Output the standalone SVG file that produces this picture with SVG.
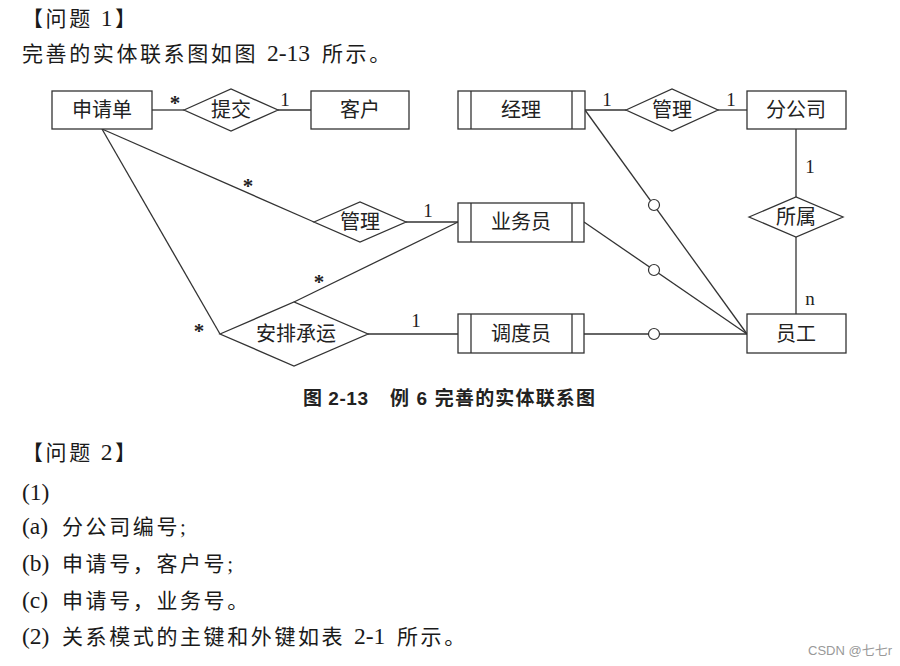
<svg xmlns="http://www.w3.org/2000/svg" width="900" height="666" viewBox="0 0 900 666">
<style>
.bg{fill:#fff}
.box{fill:#fff;stroke:#333;stroke-width:1.3}
.ln{fill:none;stroke:#333;stroke-width:1.3}
.dot{fill:#fff;stroke:#333;stroke-width:1.2}
.lbl{font-family:"Liberation Serif","Noto Sans CJK SC",serif;font-size:20px;fill:#222;text-anchor:middle}
.card{font-family:"Liberation Serif","Noto Sans CJK SC",serif;font-size:19px;fill:#222;text-anchor:middle}
.star{font-family:"Liberation Serif","Noto Sans CJK SC",serif;font-size:21px;font-weight:bold;fill:#222;text-anchor:middle}
.body{font-family:"Liberation Serif","Noto Sans CJK SC",serif;font-size:21px;fill:#1a1a1a}
.cj{letter-spacing:2.6px}
.la{font-size:23.5px}
.cap{font-family:"Liberation Sans","Noto Sans CJK SC",sans-serif;font-size:19px;font-weight:bold;fill:#222}
.wm{font-family:"Liberation Sans","Noto Sans CJK SC",sans-serif;font-size:13px;fill:#999}
</style>
<rect class="bg" x="0" y="0" width="900" height="666"/>

<g id="text-top">
<text class="body cj" x="22" y="26">【问题 <tspan class="la">1</tspan>】</text>
<text class="body" y="61"><tspan class="cj" x="22">完善的实体联系图如图</tspan><tspan class="la" x="267">2-13</tspan><tspan class="cj" x="322">所示。</tspan></text>
</g>

<g id="connectors">
<line class="ln" x1="152" y1="110" x2="184" y2="110"/>
<line class="ln" x1="278" y1="110" x2="311" y2="110"/>
<line class="ln" x1="585" y1="110" x2="626" y2="110"/>
<line class="ln" x1="718" y1="110" x2="747" y2="110"/>
<line class="ln" x1="796" y1="129" x2="796" y2="197"/>
<line class="ln" x1="796" y1="237" x2="796" y2="314"/>
<line class="ln" x1="102" y1="129" x2="314" y2="222"/>
<line class="ln" x1="102" y1="129" x2="220" y2="334"/>
<line class="ln" x1="406" y1="222" x2="458" y2="222"/>
<line class="ln" x1="294" y1="302" x2="458" y2="222"/>
<line class="ln" x1="368" y1="334" x2="458" y2="334"/>
<line class="ln" x1="585" y1="110" x2="747" y2="334"/>
<line class="ln" x1="584" y1="222" x2="747" y2="334"/>
<line class="ln" x1="584" y1="334" x2="747" y2="334"/>
<circle class="dot" cx="654" cy="205" r="5.5"/>
<circle class="dot" cx="654" cy="270" r="5.5"/>
<circle class="dot" cx="654" cy="334" r="5.5"/>
<text class="star" x="175" y="110">*</text>
<text class="card" x="285" y="106">1</text>
<text class="card" x="607" y="106">1</text>
<text class="card" x="731" y="106">1</text>
<text class="card" x="810" y="173">1</text>
<text class="card" x="810" y="305">n</text>
<text class="star" x="248" y="193">*</text>
<text class="card" x="428" y="217">1</text>
<text class="star" x="319" y="289">*</text>
<text class="star" x="199" y="338">*</text>
<text class="card" x="416" y="327">1</text>
</g>

<g id="n-shenqingdan">
<rect class="box" x="52" y="91" width="100" height="38"/>
<text class="lbl" x="102" y="117">申请单</text>
</g>
<g id="r-tijiao">
<polygon class="box" points="184,110 231,89 278,110 231,131"/>
<text class="lbl" x="231" y="117">提交</text>
</g>
<g id="n-kehu">
<rect class="box" x="311" y="91" width="98" height="38"/>
<text class="lbl" x="360" y="117">客户</text>
</g>
<g id="n-jingli">
<rect class="box" x="458" y="91" width="127" height="38"/>
<line class="ln" x1="471" y1="91" x2="471" y2="129"/>
<line class="ln" x1="572" y1="91" x2="572" y2="129"/>
<text class="lbl" x="521" y="117">经理</text>
</g>
<g id="r-guanli-top">
<polygon class="box" points="626,110 672,89 718,110 672,131"/>
<text class="lbl" x="672" y="117">管理</text>
</g>
<g id="n-fengongsi">
<rect class="box" x="747" y="91" width="99" height="38"/>
<text class="lbl" x="796" y="117">分公司</text>
</g>
<g id="r-suoshu">
<polygon class="box" points="749,217 796,197 843,217 796,237"/>
<text class="lbl" x="796" y="224">所属</text>
</g>
<g id="r-guanli-mid">
<polygon class="box" points="314,222 360,202 406,222 360,242"/>
<text class="lbl" x="360" y="229">管理</text>
</g>
<g id="n-yewuyuan">
<rect class="box" x="458" y="203" width="126" height="39"/>
<line class="ln" x1="471" y1="203" x2="471" y2="242"/>
<line class="ln" x1="572" y1="203" x2="572" y2="242"/>
<text class="lbl" x="521" y="229">业务员</text>
</g>
<g id="r-anpai">
<polygon class="box" points="220,334 294,302 368,334 294,366"/>
<text class="lbl" x="296" y="341">安排承运</text>
</g>
<g id="n-diaoduyuan">
<rect class="box" x="458" y="314" width="126" height="39"/>
<line class="ln" x1="471" y1="314" x2="471" y2="353"/>
<line class="ln" x1="572" y1="314" x2="572" y2="353"/>
<text class="lbl" x="521" y="341">调度员</text>
</g>
<g id="n-yuangong">
<rect class="box" x="747" y="314" width="99" height="39"/>
<text class="lbl" x="796" y="341">员工</text>
</g>

<g id="caption">
<text class="cap" x="303" y="405" textLength="65" lengthAdjust="spacing">图 2-13</text>
<text class="cap" x="390" y="405" textLength="205" lengthAdjust="spacing">例 6 完善的实体联系图</text>
</g>

<g id="text-bottom">
<text class="body cj" x="22" y="460">【问题 <tspan class="la">2</tspan>】</text>
<text class="body la" x="22" y="500">(1)</text>
<text class="body" y="534"><tspan class="la" x="22">(a)</tspan><tspan class="cj" x="62">分公司编号;</tspan></text>
<text class="body" y="571"><tspan class="la" x="22">(b)</tspan><tspan class="cj" x="62">申请号，客户号;</tspan></text>
<text class="body" y="608"><tspan class="la" x="22">(c)</tspan><tspan class="cj" x="62">申请号，业务号。</tspan></text>
<text class="body" y="644"><tspan class="la" x="22">(2)</tspan><tspan class="cj" x="62">关系模式的主键和外键如表</tspan><tspan class="la" x="354">2-1</tspan><tspan class="cj" x="397">所示。</tspan></text>
</g>

<text class="wm" x="808" y="655">CSDN @七七r</text>
</svg>
